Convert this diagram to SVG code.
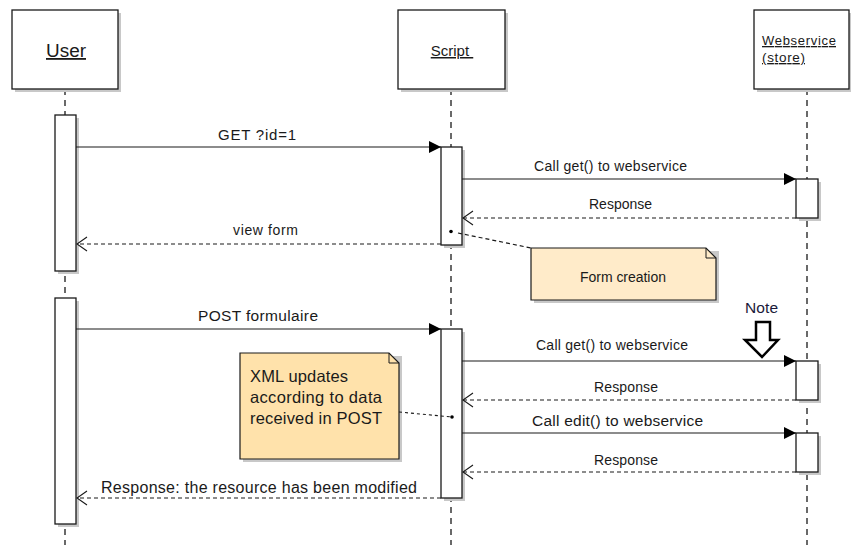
<svg xmlns="http://www.w3.org/2000/svg" width="852" height="545" viewBox="0 0 852 545">
<style>
text{font-family:"Liberation Sans",Arial,sans-serif;fill:#1a1a1a}
.box{fill:#fff;stroke:#1a1a1a;stroke-width:1.3}
.sh{fill:#c8c8c8}
.life{stroke:#1a1a1a;stroke-width:1.3;stroke-dasharray:6 5;fill:none}
.msg{stroke:#1a1a1a;stroke-width:1.2;fill:none}
.ret{stroke:#1a1a1a;stroke-width:1.2;fill:none;stroke-dasharray:4 3}
.lbl{text-anchor:middle}
.u{text-decoration:underline;text-anchor:middle}
</style>
<defs>
<marker id="fill" markerWidth="12" markerHeight="12" refX="12" refY="6" orient="auto" markerUnits="userSpaceOnUse">
<path d="M0,0 L12,6 L0,12 Z" fill="#000"/>
</marker>
<marker id="open" markerWidth="12" markerHeight="16" refX="11" refY="8" orient="auto" markerUnits="userSpaceOnUse">
<path d="M1,1 L11,8 L1,15" fill="none" stroke="#1a1a1a" stroke-width="1.1"/>
</marker>
</defs>

<g id="lifelines">
<line class="life" x1="65" y1="89" x2="65" y2="545"/>
<line class="life" x1="451" y1="89" x2="451" y2="545"/>
<line class="life" x1="807" y1="89" x2="807" y2="545"/>
</g>

<g id="user">
<rect class="sh" x="15" y="13" width="106" height="79"/>
<rect class="box" x="12" y="10" width="106" height="79"/>
<text class="u" x="66" y="57" font-size="18" textLength="40" lengthAdjust="spacingAndGlyphs">User</text>
</g>
<g id="script">
<rect class="sh" x="401" y="13" width="107" height="79"/>
<rect class="box" x="398" y="10" width="107" height="79"/>
<text class="u" x="452" y="56" font-size="15" style="white-space:pre">Script </text>
</g>
<g id="webservice">
<rect class="sh" x="757" y="13" width="94" height="79"/>
<rect class="box" x="754" y="10" width="95" height="79"/>
<text x="762" y="45" font-size="13" textLength="74" style="text-decoration:underline">Webservice</text>
<text x="762" y="62" font-size="13.5" textLength="43" style="text-decoration:underline">(store)</text>
</g>

<g id="activations">
<rect class="sh" x="58" y="118" width="21" height="156"/>
<rect class="box" x="55" y="115" width="21" height="156"/>
<rect class="sh" x="58" y="301" width="21" height="226"/>
<rect class="box" x="55" y="298" width="21" height="226"/>
<rect class="sh" x="444" y="150" width="21" height="98"/>
<rect class="box" x="441" y="147" width="21" height="98"/>
<rect class="sh" x="444" y="332" width="21" height="169"/>
<rect class="box" x="441" y="329" width="21" height="169"/>
<rect class="sh" x="799" y="182" width="22" height="39"/>
<rect class="box" x="796" y="179" width="22" height="39"/>
<rect class="sh" x="799" y="364" width="22" height="39"/>
<rect class="box" x="796" y="361" width="22" height="39"/>
<rect class="sh" x="799" y="436" width="22" height="39"/>
<rect class="box" x="796" y="433" width="22" height="39"/>
</g>

<g id="note-form">
<path d="M534,251 L719,251 L719,303 L534,303 Z" class="sh"/>
<path d="M531,248 L706,248 L716,258 L716,300 L531,300 Z" fill="#ffebc9" stroke="#1a1a1a" stroke-width="1.2"/>
<path d="M706,248 L706,258 L716,258" fill="none" stroke="#1a1a1a" stroke-width="1"/>
<text class="lbl" x="623" y="282" font-size="14" textLength="86">Form creation</text>
</g>

<g id="note-xml">
<path d="M243,356 L402,356 L402,462 L243,462 Z" class="sh"/>
<path d="M240,353 L389,353 L399,363 L399,459 L240,459 Z" fill="#ffe2ab" stroke="#1a1a1a" stroke-width="1.2"/>
<path d="M389,353 L389,363 L399,363" fill="none" stroke="#1a1a1a" stroke-width="1"/>
<text x="250" y="382" font-size="16.5" textLength="98">XML updates</text>
<text x="250" y="403" font-size="16.5" textLength="132">according to data</text>
<text x="250" y="424" font-size="16.5" textLength="132">received in POST</text>
</g>

<g id="note-label">
<text x="761.5" y="313" font-size="15.5" text-anchor="middle" textLength="33" style="fill:#1a1a3a">Note</text>
<path d="M756,322 L770,322 L770,340 L778,340 L762,357 L745,340 L756,340 Z" fill="#fff" stroke="#000" stroke-width="2.5" stroke-linejoin="miter"/>
</g>

<g id="connectors">
<line class="msg" x1="76" y1="147" x2="441" y2="147" marker-end="url(#fill)"/>
<text class="lbl" x="257" y="140" font-size="15" textLength="78">GET ?id=1</text>
<line class="msg" x1="462" y1="179" x2="796" y2="179" marker-end="url(#fill)"/>
<text class="lbl" x="610.5" y="171" font-size="14" textLength="153">Call get() to webservice</text>
<line class="ret" x1="796" y1="218" x2="463" y2="218" marker-end="url(#open)"/>
<text class="lbl" x="620.5" y="209" font-size="14" textLength="63">Response</text>
<line class="ret" x1="441" y1="244" x2="77" y2="244" marker-end="url(#open)"/>
<text class="lbl" x="265.5" y="235" font-size="14" textLength="65">view form</text>
<line class="ret" x1="458" y1="233" x2="531" y2="248"/>
<circle cx="451" cy="231.5" r="1.8" fill="#000"/>

<line class="msg" x1="76" y1="329" x2="441" y2="329" marker-end="url(#fill)"/>
<text class="lbl" x="258" y="321" font-size="15.5" textLength="120">POST formulaire</text>
<line class="msg" x1="462" y1="361" x2="796" y2="361" marker-end="url(#fill)"/>
<text class="lbl" x="612" y="350" font-size="14" textLength="152">Call get() to webservice</text>
<line class="ret" x1="796" y1="400" x2="463" y2="400" marker-end="url(#open)"/>
<text class="lbl" x="626" y="392" font-size="14" textLength="64">Response</text>
<line class="msg" x1="462" y1="433" x2="796" y2="433" marker-end="url(#fill)"/>
<text class="lbl" x="617.5" y="426" font-size="15.5" textLength="171">Call edit() to webservice</text>
<line class="ret" x1="796" y1="472" x2="463" y2="472" marker-end="url(#open)"/>
<text class="lbl" x="626" y="465" font-size="14" textLength="64">Response</text>
<line class="ret" x1="441" y1="498" x2="77" y2="498" marker-end="url(#open)"/>
<text class="lbl" x="259" y="493" font-size="16" textLength="316">Response: the resource has been modified</text>
<line stroke="#1a1a1a" stroke-width="1.1" stroke-dasharray="3 3" x1="399" y1="412" x2="452" y2="417"/>
<circle cx="452" cy="417" r="1.8" fill="#000"/>
</g>
</svg>
